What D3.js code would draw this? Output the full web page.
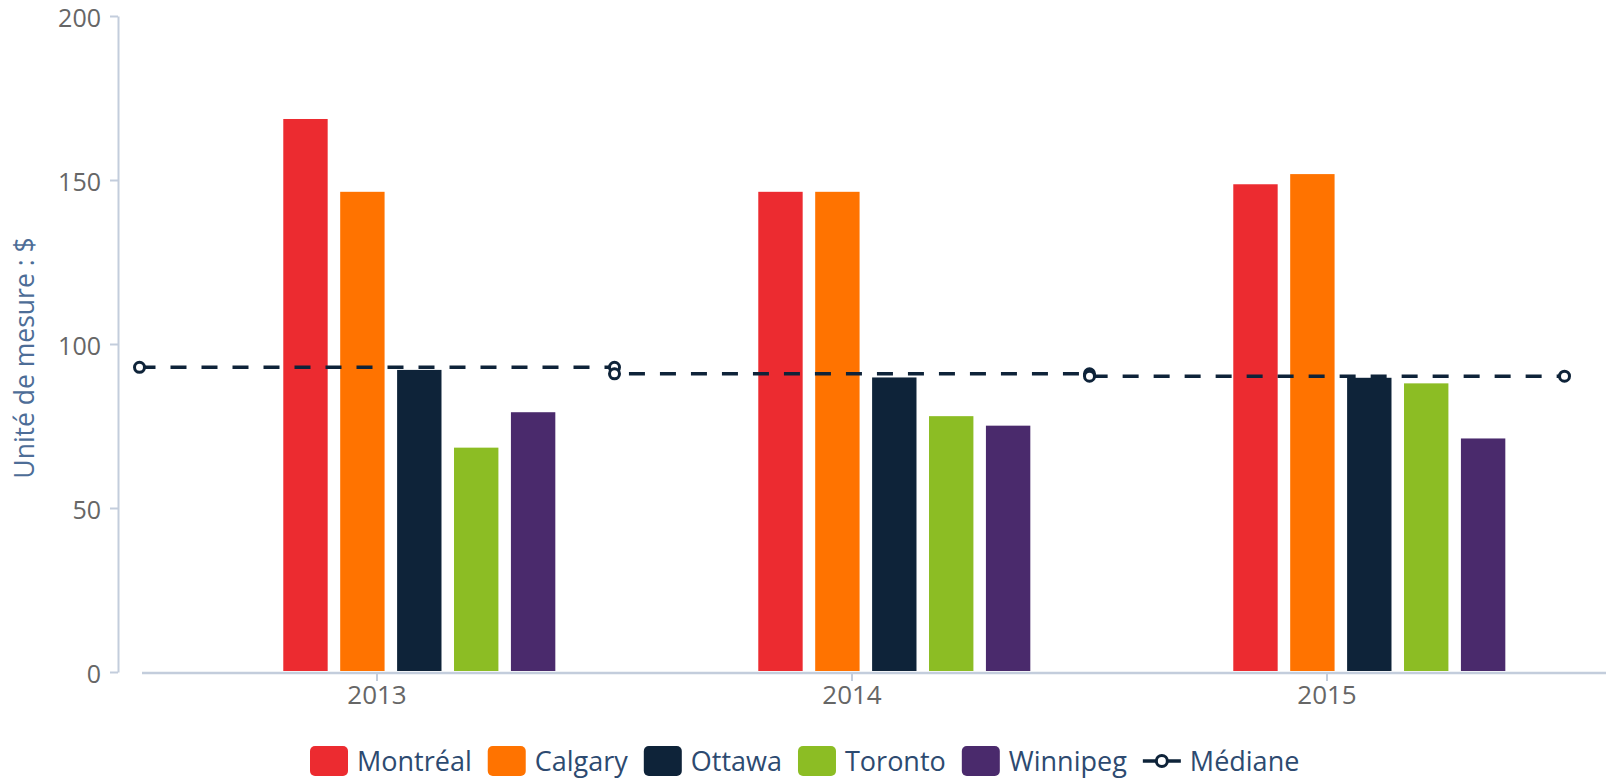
<!DOCTYPE html>
<html>
<head>
<meta charset="utf-8">
<script src="https://cdn.jsdelivr.net/npm/d3@7/dist/d3.min.js"></script>
<style>
  html, body { margin: 0; padding: 0; background: #fff; }
  svg { display: block; }
</style>
</head>
<body>
<svg id="chart" width="1606" height="778"></svg>
<script>
// ---- Data ----
const categories = ["2013", "2014", "2015"];
const seriesNames = ["Montréal", "Calgary", "Ottawa", "Toronto", "Winnipeg"];
const montreal = [168.6, 146.4, 148.7];
const calgary  = [146.4, 146.4, 151.8];
const ottawa   = [92.1, 89.8, 89.7];
const toronto  = [68.4, 78.0, 88.0];
const winnipeg = [79.2, 75.1, 71.2];
const median   = [92.9, 90.9, 90.2];
const medianName = "Médiane";
const yTicks = [0, 50, 100, 150, 200];
const yTitle = "Unité de mesure : $";

const seriesValues = [montreal, calgary, ottawa, toronto, winnipeg];
const colors = ["#ec2b30", "#ff7300", "#0e2339", "#8cbd24", "#4a2a6c"];
const medianColor = "#0e2339";

// ---- Layout ----
const W = 1606, H = 778;
const plotLeft = 139.5, plotRight = 1564.5, plotTop = 16, plotBottom = 672;
const svg = d3.select("#chart");

const x = d3.scaleBand().domain(categories).range([plotLeft, plotRight]).padding(0);
const bw = x.bandwidth();
const inner = d3.scaleBand().domain(seriesNames)
  .range([bw * 0.3027, bw * 0.8754]).paddingInner(0.22).paddingOuter(0);
const y = d3.scaleLinear().domain([0, 200]).range([plotBottom, plotTop]);

const tickFont = "'Open Sans', sans-serif";

// Y axis
const yAxisX = 118;
const yAxis = d3.axisLeft(y).tickValues(yTicks).tickSize(8).tickPadding(9).tickSizeOuter(0);
const gy = svg.append("g").attr("transform", `translate(${yAxisX},0)`).call(yAxis);
gy.select(".domain").attr("stroke", "#c3cddc").attr("stroke-width", 2);
gy.selectAll(".tick line").attr("stroke", "#c3cddc").attr("stroke-width", 2);
gy.selectAll(".tick text").attr("fill", "#666").attr("dy", "0.42em")
  .style("font-family", tickFont).style("font-size", "25px");

// Y title
svg.append("text")
  .attr("transform", `translate(34,${(plotTop + plotBottom) / 2 + 14}) rotate(-90)`)
  .attr("text-anchor", "middle")
  .attr("fill", "#4d6d97")
  .style("font-family", tickFont)
  .style("font-size", "26.5px")
  .text(yTitle);

// X axis
const xAxis = d3.axisBottom(x).tickSize(8).tickPadding(5).tickSizeOuter(0);
const gx = svg.append("g").attr("transform", `translate(0,${plotBottom + 1})`).call(xAxis);
gx.select(".domain").remove();
gx.selectAll(".tick line").attr("stroke", "#c3cddc").attr("stroke-width", 2);
gx.selectAll(".tick text").attr("fill", "#666").style("font-family", tickFont).style("font-size", "26px");
svg.append("line")
  .attr("x1", x.range()[0] + 2.5).attr("x2", W)
  .attr("y1", plotBottom + 1).attr("y2", plotBottom + 1)
  .attr("stroke", "#c3cddc").attr("stroke-width", 2.5);

// Bars
seriesNames.forEach((name, si) => {
  svg.append("g").selectAll("rect")
    .data(categories.map((c, ci) => ({ c, v: seriesValues[si][ci] })))
    .join("rect")
    .attr("x", d => x(d.c) + inner(name))
    .attr("width", inner.bandwidth())
    .attr("y", d => y(d.v))
    .attr("height", d => y(0) - y(d.v) - 1)
    .attr("fill", colors[si]);
});

// Median line (step across each category band)
const medPts = [];
categories.forEach((c, i) => {
  medPts.push({ x: x(c), v: median[i] });
  medPts.push({ x: x(c) + bw, v: median[i] });
});
svg.append("path")
  .datum(medPts)
  .attr("d", d3.line().x(d => d.x).y(d => y(d.v)))
  .attr("fill", "none")
  .attr("stroke", medianColor)
  .attr("stroke-width", 3.5)
  .attr("stroke-dasharray", "16,15");
svg.append("g").selectAll("circle")
  .data(medPts)
  .join("circle")
  .attr("cx", d => d.x).attr("cy", d => y(d.v))
  .attr("r", 5)
  .attr("fill", "#fff")
  .attr("stroke", medianColor)
  .attr("stroke-width", 3);

// Legend
const legendFont = "'Open Sans', sans-serif";
const legendY = 761;
const lg = svg.append("g");
let lx = 310;
seriesNames.forEach((name, si) => {
  lg.append("rect").attr("x", lx).attr("y", legendY - 15).attr("width", 38).attr("height", 30)
    .attr("rx", 5).attr("fill", colors[si]);
  const t = lg.append("text").attr("x", lx + 47).attr("y", legendY + 10)
    .attr("fill", "#2d4a70").style("font-family", legendFont).style("font-size", "27px").text(name);
  lx += 47 + t.node().getComputedTextLength() + 16;
});
lg.append("line").attr("x1", lx).attr("x2", lx + 38).attr("y1", legendY).attr("y2", legendY)
  .attr("stroke", medianColor).attr("stroke-width", 3.5);
lg.append("circle").attr("cx", lx + 19).attr("cy", legendY).attr("r", 5.5)
  .attr("fill", "#fff").attr("stroke", medianColor).attr("stroke-width", 3);
lg.append("text").attr("x", lx + 47).attr("y", legendY + 10)
  .attr("fill", "#2d4a70").style("font-family", legendFont).style("font-size", "27px").text(medianName);
</script>
</body>
</html>
